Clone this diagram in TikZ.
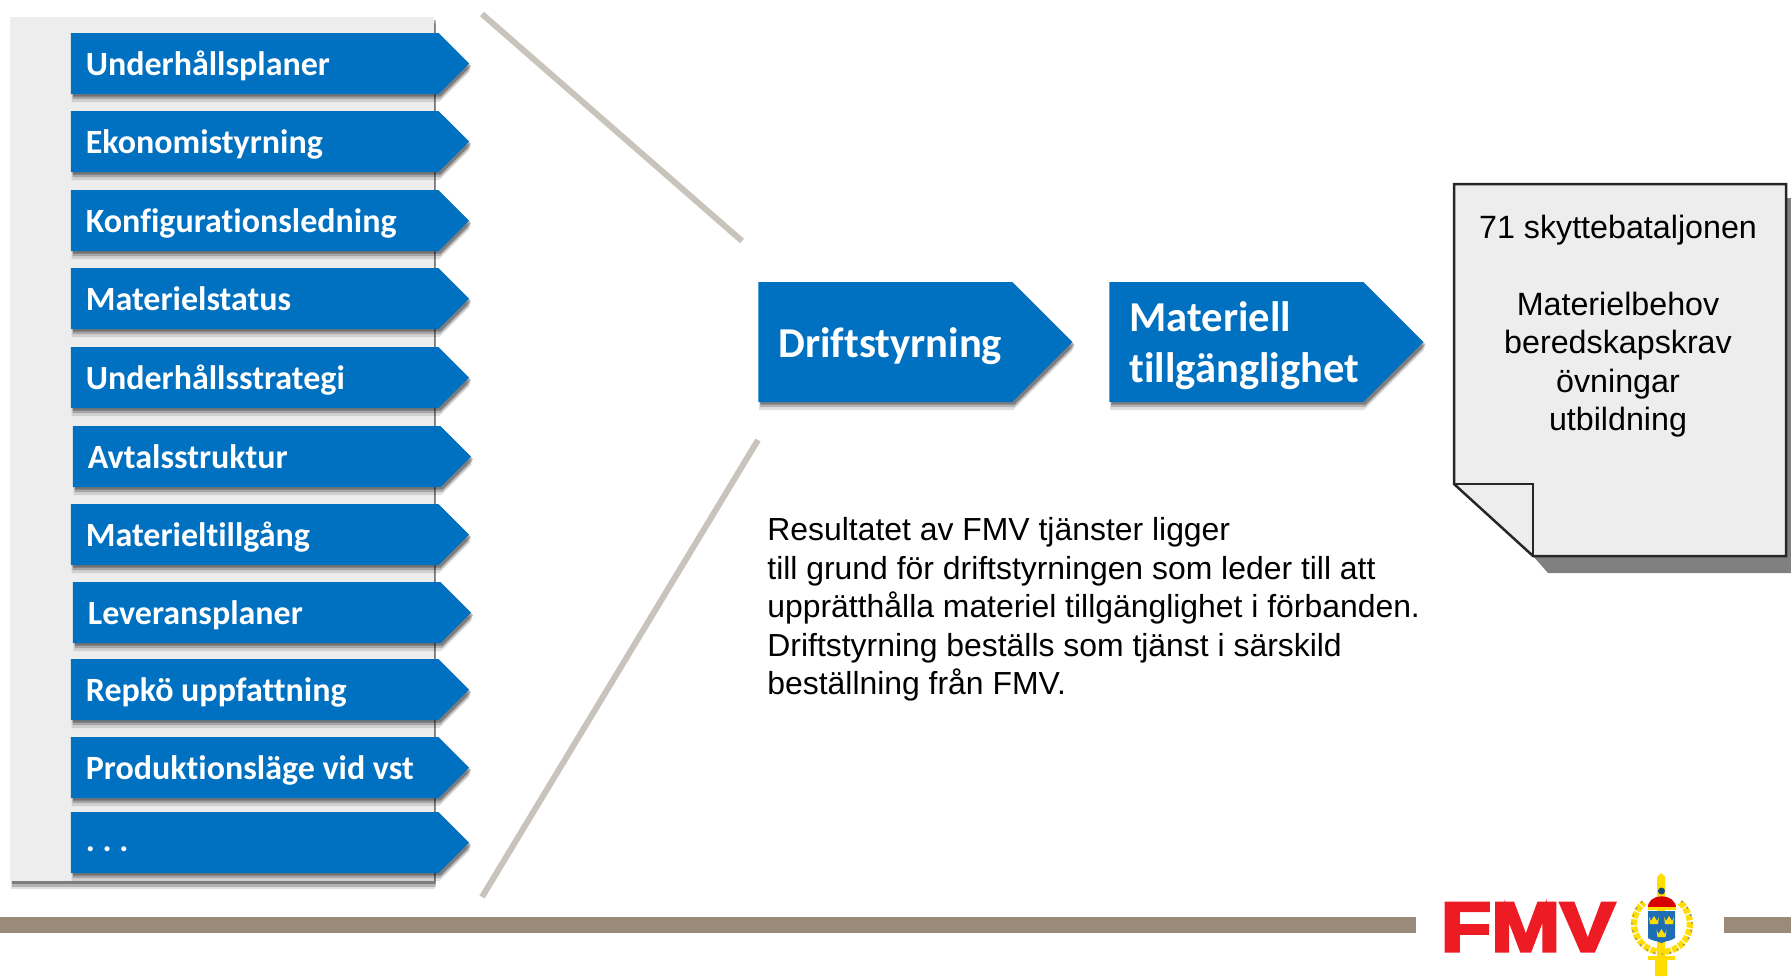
\documentclass[tikz,border=0pt]{standalone}
\usepackage{fontspec}
\setmainfont{Liberation Sans}
\newfontfamily\boxfont[Ligatures=NoCommon]{Carlito}
\newfontfamily\logofont[FakeBold=4]{Liberation Sans}
\frenchspacing
\usetikzlibrary{shapes.symbols,shadows,positioning}
\definecolor{fmvblue}{HTML}{0070C0}
\definecolor{panelgrey}{HTML}{EDEDED}
\definecolor{rulebrown}{HTML}{9A8A7A}
\definecolor{linegrey}{HTML}{C8C4BC}
\definecolor{fmvred}{HTML}{ED1C24}
\definecolor{crowngold}{HTML}{FFDD00}
\definecolor{shieldblue}{HTML}{1F6DB5}
\tikzset{softshadow/.style={general shadow={fill=black,opacity=0.12,shadow xshift=0.4pt,shadow yshift=-4pt},general shadow={fill=black,opacity=0.2,shadow xshift=0.8pt,shadow yshift=-2.6pt},general shadow={fill=black,opacity=0.3,shadow xshift=1pt,shadow yshift=-1.3pt}}}
\begin{document}
\begin{tikzpicture}[x=0.5pt,y=-0.5pt]
        \tikzstyle{item} = [signal, signal to=east, signal from=nowhere, signal pointer angle=90, fill=fmvblue, text=white, font=\boxfont\bfseries\fontsize{17}{20}\selectfont, text width=168.8pt, align=flush left, inner xsep=7.5pt, inner ysep=0pt, text height=15pt, text depth=3.5pt, minimum height=30.5pt, anchor=west, softshadow]
        \tikzstyle{result} = [signal, signal to=east, signal from=nowhere, signal pointer angle=90, fill=fmvblue, text=white, font=\boxfont\bfseries\fontsize{21.3}{25.5}\selectfont, text width=107pt, align=flush left, inner xsep=10pt, inner ysep=0pt, minimum height=60pt, anchor=west, softshadow]
        \tikzstyle{body} = [font=\fontsize{16.12}{19.25}\selectfont, inner sep=0pt]

    \useasboundingbox (0,0) rectangle (1791,976);

    % panel behind the list
    \node [fill=panelgrey, minimum width=212pt, minimum height=432pt, inner sep=0pt, anchor=north west, softshadow] (panel) at (10,17) {};

    \node [item] (plans) at (70.5,63.5) {Underhållsplaner};
    \node [item] (economy) at (70.5,141.5) {Ekonomistyrning};
    \node [item] (config) at (70.5,220.5) {Konfigurationsledning};
    \node [item] (status) at (70.5,298.5) {Materielstatus};
    \node [item] (strategy) at (70.5,377.5) {Underhållsstrategi};
    \node [item] (contracts) at (72.5,456.5) {Avtalsstruktur};
    \node [item] (supply) at (70.5,534.5) {Materieltillgång};
    \node [item] (delivery) at (72.5,612.5) {Leveransplaner};
    \node [item] (repko) at (70.5,689.5) {Repkö uppfattning};
    \node [item] (production) at (70.5,767.5) {Produktionsläge vid vst};
    \node [item, text height=12.5pt] (more) at (70.5,842.5) {. . .};

    \coordinate (upper_start) at (482,14);
    \coordinate (upper_end) at (742,241);
    \coordinate (lower_start) at (482,897);
    \coordinate (lower_end) at (758,440);
    \draw [linegrey, line width=3pt] (upper_start) -- (upper_end);
    \draw [linegrey, line width=3pt] (lower_start) -- (lower_end);

    \node [result, text height=20pt, text depth=5pt] (control) at (758,342) {Driftstyrning};
    \node [result, text height=16pt, text depth=27pt] (avail) at (1109,342) {Materiell\\tillgänglighet};

    % document with folded corner
    \fill [black!50] (1533,556) -- (1548,573) -- (1791,573) -- (1791,198) -- (1786,198) -- (1786,556) -- cycle;
    \filldraw [fill=panelgrey, draw=black!85, line width=1.25pt] (1454,184) -- (1786,184) -- (1786,556) -- (1533,556) -- (1454,484) -- cycle;
    \draw [black!85, line width=1.25pt] (1454,484) -- (1533,484) -- (1533,556);
    \node [body, align=flush center] (orders) at (1618,326) {71 skyttebataljonen\\[19.25pt]Materielbehov\\beredskapskrav\\övningar\\utbildning};

    \node [body, font=\fontsize{15.95}{19.25}\selectfont, align=flush left, anchor=west] (note) at (767,609.5) {Resultatet av FMV tjänster ligger\\till grund för driftstyrningen som leder till att\\upprätthålla materiel tillgänglighet i förbanden.\\Driftstyrning beställs som tjänst i särskild\\beställning från FMV.};

    \fill [rulebrown] (0,917) rectangle (1416,933);
    \fill [rulebrown] (1724,917) rectangle (1791,933);

    \node [text=fmvred, font=\logofont\bfseries\fontsize{35}{35}\selectfont, inner sep=0pt, xscale=1.18] (logo) at (1528,927) {FMV};

    % emblem
    \fill [crowngold] (1657,885) -- (1657,877) -- (1661,873) -- (1665,877) -- (1665,885) -- (1665,976) -- (1657,976) -- cycle;
    \fill [crowngold] (1648,956) rectangle (1675,960);
    \fill [crowngold] (1655,960) rectangle (1667,976);
    \draw [crowngold, line width=3.2pt, dash pattern=on 3pt off 0.7pt] (1662,924) ++(-50:28) arc [start angle=-50, end angle=230, radius=28];
    \draw [black!45, line width=0.6pt, dash pattern=on 1pt off 3pt] (1662,924) ++(-50:30) arc [start angle=-50, end angle=230, radius=30];
    \fill [shieldblue!70!black] (1661.5,891) circle [radius=3.5];
    \fill [red!85!black] (1648,909) .. controls (1646,892) and (1677,892) .. (1676,909) -- cycle;
    \fill [crowngold] (1648,907) rectangle (1676,910);
    \fill [shieldblue] (1648,911) -- (1675,911) -- (1675,938) .. controls (1671,941) and (1665,941) .. (1661.5,943) .. controls (1658,941) and (1652,941) .. (1648,938) -- cycle;
    \foreach \cx/\cy in {1654/917, 1669/917, 1661.5/930}
      \fill [crowngold] (\cx-5,\cy) -- (\cx-3,\cy+4) -- (\cx,\cy-1) -- (\cx+3,\cy+4) -- (\cx+5,\cy) -- (\cx+4,\cy+7) -- (\cx-4,\cy+7) -- cycle;
\end{tikzpicture}
\end{document}
